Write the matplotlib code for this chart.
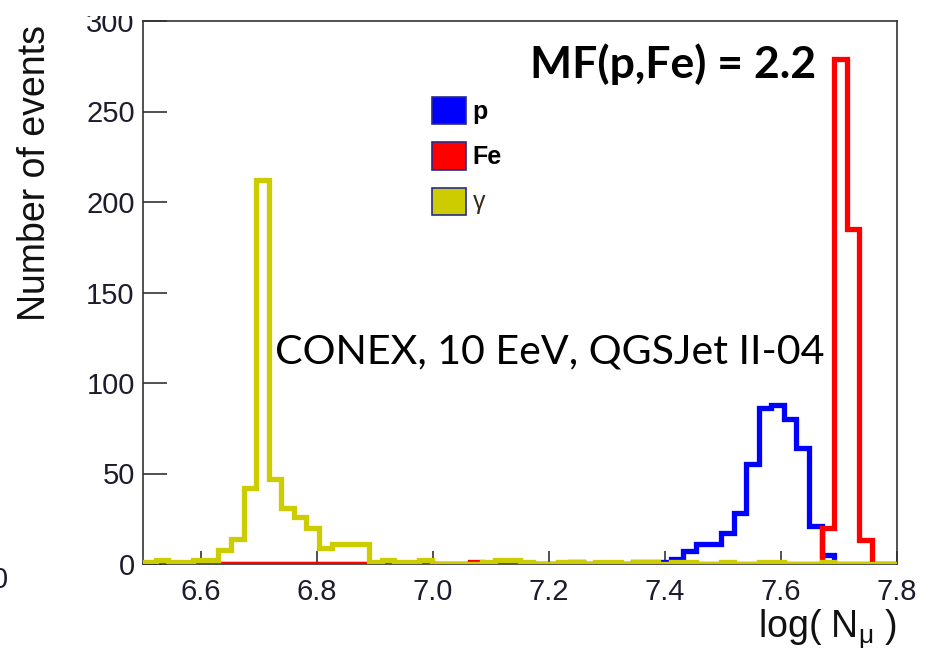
import numpy as np
import matplotlib
matplotlib.use("Agg")
import matplotlib.pyplot as plt
from matplotlib.patches import Patch
from matplotlib.transforms import Bbox, TransformedBbox

plt.rcParams['font.family'] = ['Liberation Sans', 'DejaVu Sans']
plt.rcParams['mathtext.fontset'] = 'custom'
plt.rcParams['mathtext.rm'] = 'Liberation Sans'
plt.rcParams['mathtext.it'] = 'Liberation Sans'

# 60 bins of log(N_mu) between 6.5 and 7.8
edges = np.linspace(6.5, 7.8, 61)

# counts per bin
proton = [0] * 34 + [1, 0, 0, 0, 0, 1, 1, 1, 3, 7, 11, 11, 17, 28, 55, 86,
                     88, 80, 64, 21, 5, 0, 0, 0, 0, 0]
iron = ([0, 1] + [0] * 20 + [1, 0, 0, 0, 1, 0, 0, 1] + [0] * 24
        + [20, 279, 185, 13, 0, 0])
gamma = ([1, 2, 1, 1, 2, 2, 8, 14, 42, 212, 47, 31, 26, 20, 9, 11, 11, 11,
          1, 2, 1, 1, 2, 0, 0, 0, 0, 1, 2, 2, 1, 0, 0, 1, 1, 0, 1, 1, 0, 1,
          1, 0, 1, 1, 0, 0, 1, 0, 0, 1, 1, 0, 0, 0, 1, 0, 0, 0, 0, 0])

xticks = [6.6, 6.8, 7.0, 7.2, 7.4, 7.6, 7.8]
yticks = [0, 50, 100, 150, 200, 250, 300]

c_p = '#0000ff'
c_fe = '#ff0000'
c_g = '#cccc00'

fig = plt.figure(figsize=(9.3, 6.57), dpi=100)
W, H = 930, 657
ax = fig.add_axes([143 / W, 1 - 564 / H, (897 - 143) / W, (564 - 21) / H])

lw = 3.8
ax.stairs(proton, edges, color=c_p, lw=lw, zorder=3)
ax.stairs(iron, edges, color=c_fe, lw=lw, zorder=3.1)
ax.stairs(gamma, edges, color=c_g, lw=lw, zorder=3.2)

ax.set_xlim(6.5, 7.8)
ax.set_ylim(0, 300)
ax.set_xticks(xticks)
ax.set_xticklabels(['%.1f' % t for t in xticks])
ax.set_yticks(yticks)
for s in ax.spines.values():
    s.set_color('#333333')
    s.set_linewidth(1.2)
ax.tick_params(axis='x', direction='in', length=9.5, width=1.2, color='#333333',
               labelsize=21, labelcolor='#1c1c2c', pad=10)
ax.tick_params(axis='y', direction='in', length=17, width=1.2, color='#333333',
               labelsize=21, labelcolor='#1c1c2c', pad=6)

# the 300 label is clipped by the top of the pad
clip = TransformedBbox(Bbox([[0, 0], [1, 1 - 16 / H]]), fig.transFigure)
for lbl in ax.get_yticklabels():
    lbl.set_clip_box(clip)
    lbl.set_clip_on(True)

fig.text(35 / W, 1 - 25 / H, 'Number of events', rotation=90, ha='center',
         va='top', fontsize=27, color='#111111')
fig.text(897 / W, 1 - 638 / H, r'log( N$_{\mu}$ )', ha='right',
         va='baseline', fontsize=27, color='#111111')
# stray label of the neighbouring pad
fig.text(-8 / W, 1 - 580 / H, '0', ha='left', va='center', fontsize=21,
         color='#1c1c2c')

fig.text(530 / W, 1 - 64 / H, 'MF(p,Fe) = 2.2', ha='left', va='center',
         fontsize=32, fontweight='bold', family='Lato', color='black')
fig.text(275 / W, 1 - 352 / H, 'CONEX, 10 EeV, QGSJet II-04', ha='left',
         va='center', fontsize=29.6, family='Lato', color='black')

handles = [Patch(facecolor=c, edgecolor='#2a2a8a', lw=1.2) for c in (c_p, c_fe, c_g)]
leg = fig.legend(handles, ['p', 'Fe', r'$\gamma$'], loc='upper left',
                 bbox_to_anchor=(432 / W, 1 - 97 / H), frameon=False,
                 fontsize=18, handlelength=1.35, handleheight=1.3,
                 handletextpad=0.25, labelspacing=0.72, borderpad=0,
                 borderaxespad=0)
for t in leg.get_texts()[:2]:
    t.set_fontweight('bold')
leg.get_texts()[2].set_color('#3a2a1a')

fig.savefig('out.png', dpi=100)
